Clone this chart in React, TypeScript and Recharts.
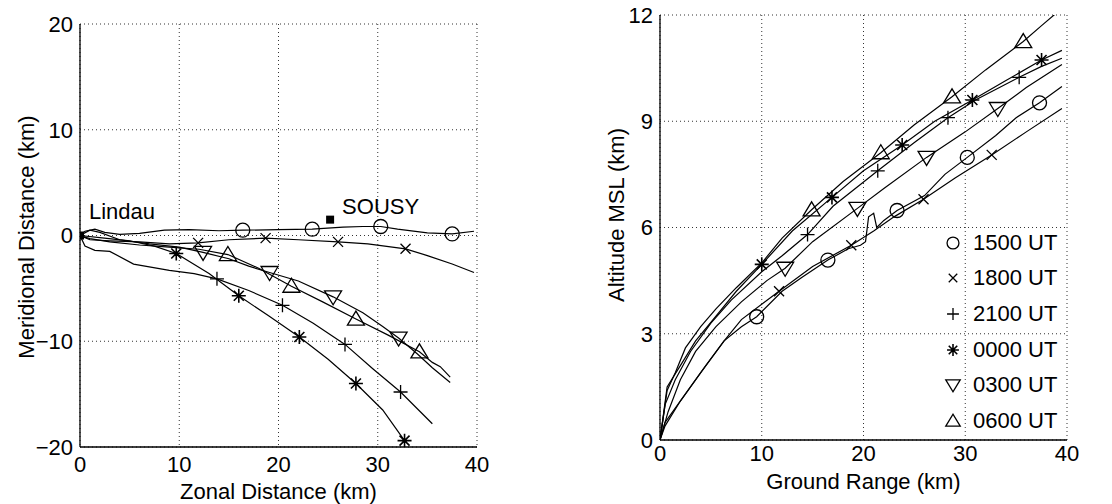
import React from "react"
import { ScatterChart, Scatter, XAxis, YAxis, CartesianGrid, Label, Legend } from "recharts"

type Pt = [number, number]

// ---- left panel: plan view of the balloon tracks (zonal km, meridional km)
const planTrack1500: Pt[] = [[0, 0], [0.5, 0.4], [1.5, 0.6], [2.5, 0.3], [4, 0.1], [6, 0.2], [8.5, 0.5], [11, 0.55], [14, 0.45], [16.4, 0.5], [20, 0.55], [23.4, 0.6], [26.5, 0.8], [28.5, 0.85], [30.3, 0.85], [32, 0.6], [35, 0.25], [37.5, 0.15], [39.7, 0.4]]
const planMarks1500: Pt[] = [[16.4, 0.5], [23.4, 0.6], [30.3, 0.85], [37.5, 0.15]]
const planTrack1800: Pt[] = [[0, 0], [1, -0.4], [3, -0.5], [6, -0.6], [9, -0.8], [11.9, -0.7], [15, -0.4], [18.7, -0.25], [22, -0.4], [26, -0.6], [29, -0.8], [32.8, -1.26], [35, -1.9], [37.5, -2.7], [39.7, -3.5]]
const planMarks1800: Pt[] = [[11.9, -0.7], [18.7, -0.25], [26, -0.6], [32.8, -1.26]]
const planTrack2100: Pt[] = [[0, 0], [0.5, -1.0], [1.5, -1.4], [3, -1.5], [5.4, -2.7], [9, -3.3], [11.5, -3.6], [13.8, -4.1], [17, -5.2], [20.4, -6.6], [23.5, -8.3], [26.7, -10.3], [29.5, -12.6], [32.3, -14.8], [35.5, -17.8]]
const planMarks2100: Pt[] = [[13.8, -4.1], [20.4, -6.6], [26.7, -10.3], [32.3, -14.8]]
const planTrack0000: Pt[] = [[0, 0], [2, -0.2], [5, -0.5], [7.5, -1.0], [9.7, -1.7], [13, -3.6], [16, -5.7], [19, -7.6], [22.1, -9.6], [25, -11.7], [27.8, -14.0], [30.5, -16.5], [32.7, -19.4]]
const planMarks0000: Pt[] = [[9.7, -1.7], [16, -5.7], [22.1, -9.6], [27.8, -14.0], [32.7, -19.4]]
const planTrack0300: Pt[] = [[0, 0], [1, 0.5], [2, 0.3], [4, -0.4], [7, -0.8], [10, -1.1], [12.4, -1.6], [15, -2.2], [17, -2.9], [19.1, -3.5], [22, -4.3], [25.5, -5.8], [28.5, -7.3], [30.5, -8.6], [32.1, -9.7], [34, -11.2], [35.5, -12.5], [37.3, -13.9]]
const planMarks0300: Pt[] = [[12.4, -1.6], [19.1, -3.5], [25.5, -5.8], [32.1, -9.7]]
const planTrack0600: Pt[] = [[0, 0], [1, -0.3], [3, -0.6], [6, -0.9], [9, -1.1], [12, -1.3], [14.9, -1.8], [18, -3.1], [21.3, -4.8], [24.5, -6.3], [27.8, -7.9], [31, -9.4], [34.2, -11.0], [35.5, -12.0], [36.3, -12.4], [37.3, -13.4]]
const planMarks0600: Pt[] = [[14.9, -1.8], [21.3, -4.8], [27.8, -7.9], [34.2, -11.0]]
const sites = [
  { x: 0, y: 0, name: "Lindau" },
  { x: 25.2, y: 1.5, name: "SOUSY" },
]

// ---- right panel: altitude against ground range
const altTrack1500: Pt[] = [[0, 0], [0.5, 0.5], [1.5, 0.9], [3, 1.5], [4.5, 2.1], [6.3, 2.8], [8, 3.2], [9.5, 3.48], [12, 4.2], [14, 4.6], [16.5, 5.08], [18.5, 5.4], [19.7, 5.5], [20.2, 5.6], [20.5, 6.3], [21, 6.4], [21.3, 6.0], [22, 6.2], [23.3, 6.48], [26, 6.9], [28, 7.5], [30.2, 7.98], [33, 8.6], [35, 9.1], [37.3, 9.52], [39.5, 9.98]]
const altMarks1500: Pt[] = [[9.5, 3.48], [16.5, 5.08], [23.3, 6.48], [30.2, 7.98], [37.3, 9.52]]
const altTrack1800: Pt[] = [[0, 0], [0.5, 0.4], [2, 1.1], [4, 1.9], [6.3, 2.8], [8, 3.4], [11.7, 4.2], [15, 4.9], [18.8, 5.5], [21, 5.9], [23, 6.3], [25.9, 6.8], [29, 7.4], [32.6, 8.05], [36, 8.7], [39.5, 9.36]]
const altMarks1800: Pt[] = [[11.7, 4.2], [18.8, 5.5], [25.9, 6.8], [32.6, 8.05]]
const altTrack2100: Pt[] = [[0, 0], [0.5, 1.0], [1.5, 1.7], [3, 2.5], [5, 3.3], [7, 3.95], [10, 4.75], [12, 5.2], [14.5, 5.8], [17, 6.6], [21.4, 7.6], [25, 8.4], [28.3, 9.1], [31, 9.6], [35.3, 10.24], [37.5, 10.55], [39.5, 10.78]]
const altMarks2100: Pt[] = [[14.5, 5.8], [21.4, 7.6], [28.3, 9.1], [35.3, 10.24]]
const altTrack0000: Pt[] = [[0, 0], [0.7, 1.5], [2, 2.1], [3.5, 2.8], [5.5, 3.5], [7.5, 4.2], [10, 4.96], [13, 5.9], [16.9, 6.85], [20, 7.6], [23.8, 8.33], [27, 9.0], [30.7, 9.6], [34, 10.15], [37.5, 10.73], [39.5, 11.0]]
const altMarks0000: Pt[] = [[10, 4.96], [16.9, 6.85], [23.8, 8.33], [30.7, 9.6], [37.5, 10.73]]
const altTrack0300: Pt[] = [[0, 0], [0.8, 0.8], [2, 1.7], [3.5, 2.5], [5.5, 3.2], [8, 3.9], [10.5, 4.5], [12.3, 4.85], [15, 5.6], [19.4, 6.54], [22, 7.1], [26.2, 7.98], [30, 8.7], [33.2, 9.36], [36, 9.95], [39.5, 10.6]]
const altMarks0300: Pt[] = [[12.3, 4.85], [19.4, 6.54], [26.2, 7.98], [33.2, 9.36]]
const altTrack0600: Pt[] = [[0, 0], [0.7, 1.4], [1.5, 1.9], [2.5, 2.6], [4, 3.2], [5.5, 3.7], [7.5, 4.3], [10, 5.0], [12, 5.7], [14.9, 6.5], [18, 7.3], [21.7, 8.11], [25, 8.9], [28.7, 9.69], [32, 10.45], [35.7, 11.25], [37.5, 11.7], [39.3, 12.14]]
const altMarks0600: Pt[] = [[14.9, 6.5], [21.7, 8.11], [28.7, 9.69], [35.7, 11.25]]

const launchNames = ["1500 UT", "1800 UT", "2100 UT", "0000 UT", "0300 UT", "0600 UT"]
const markerKinds = ["circle", "x", "plus", "star", "down", "up"]
const planX = [0, 10, 20, 30, 40]
const planY = [-20, -10, 0, 10, 20]
const altX = [0, 10, 20, 30, 40]
const altY = [0, 3, 6, 9, 12]

const planTracks = [planTrack1500, planTrack1800, planTrack2100, planTrack0000, planTrack0300, planTrack0600]
const planMarks = [planMarks1500, planMarks1800, planMarks2100, planMarks0000, planMarks0300, planMarks0600]
const altTracks = [altTrack1500, altTrack1800, altTrack2100, altTrack0000, altTrack0300, altTrack0600]
const altMarks = [altMarks1500, altMarks1800, altMarks2100, altMarks0000, altMarks0300, altMarks0600]

const FONT = "'Liberation Sans', Arial, Helvetica, sans-serif"
const toXY = (pts: Pt[]) => pts.map(([x, y]) => ({ x, y }))
const fmt = (v: number) => (v < 0 ? `\u2212${-v}` : `${v}`)

function Marker({ kind, cx, cy, s = 1 }: { kind: string; cx: number; cy: number; s?: number }) {
  const st = { fill: "none", stroke: "#000", strokeWidth: 1.3 }
  const d = 5 * s
  const p = 7 * s
  if (kind === "circle") return <circle cx={cx} cy={cy} r={7 * s} {...st} />
  if (kind === "x") return <path d={`M${cx - d},${cy - d}L${cx + d},${cy + d}M${cx - d},${cy + d}L${cx + d},${cy - d}`} {...st} />
  if (kind === "plus") return <path d={`M${cx - p},${cy}L${cx + p},${cy}M${cx},${cy - p}L${cx},${cy + p}`} {...st} />
  if (kind === "star")
    return (
      <path
        d={`M${cx - p},${cy}L${cx + p},${cy}M${cx},${cy - p}L${cx},${cy + p}M${cx - d},${cy - d}L${cx + d},${cy + d}M${cx - d},${cy + d}L${cx + d},${cy - d}`}
        {...st}
        strokeWidth={1.6}
      />
    )
  const w = 8.5 * s
  if (kind === "down") return <path d={`M${cx - w},${cy - 6 * s}L${cx + w},${cy - 6 * s}L${cx},${cy + 8 * s}Z`} {...st} />
  return <path d={`M${cx - w},${cy + 6 * s}L${cx + w},${cy + 6 * s}L${cx},${cy - 8 * s}Z`} {...st} />
}

const SiteShape = (props: any) => {
  const { cx, cy, payload } = props
  const lindau = payload.name === "Lindau"
  return (
    <g>
      <rect x={cx - 4} y={cy - 4} width={8} height={8} fill="#000" />
      <text x={cx + (lindau ? 9 : 12)} y={cy + (lindau ? -17 : -6)} fontSize={22} fontFamily={FONT} fill="#000">
        {payload.name}
      </text>
    </g>
  )
}

const tickStyle = { fill: "#000", fontSize: 22, fontFamily: FONT }
const axisLine = { stroke: "#000", strokeWidth: 1.3 }
const line = { stroke: "#000", strokeWidth: 1.2 }

function TrackSeries(tracks: Pt[][], marks: Pt[][], scale: number) {
  return launchNames.flatMap((name, i) => [
    <Scatter
      key={name + "-line"}
      name={name}
      data={toXY(tracks[i])}
      line={line}
      shape={() => <g />}
      legendType="none"
      isAnimationActive={false}
    />,
    <Scatter
      key={name + "-mark"}
      name={name + " marks"}
      data={toXY(marks[i])}
      shape={(p: any) => <Marker kind={markerKinds[i]} cx={p.cx} cy={p.cy} s={scale} />}
      legendType="none"
      isAnimationActive={false}
    />,
  ])
}

const LaunchLegend = () => (
  <div style={{ fontFamily: FONT, fontSize: 22, color: "#000" }}>
    {launchNames.map((n, i) => (
      <div key={n} style={{ display: "flex", alignItems: "center", height: 35.6 }}>
        <svg width={20} height={20} style={{ marginRight: 10 }}>
          <Marker kind={markerKinds[i]} cx={10} cy={10} s={0.85} />
        </svg>
        <span>{n}</span>
      </div>
    ))}
  </div>
)

export default function App() {
  return (
    <div style={{ position: "absolute", left: 0, top: 0, width: 1112, height: 504, background: "#fff", fontFamily: FONT }}>
      <div style={{ position: "absolute", left: 0, top: 0 }}>
        <ScatterChart width={500} height={504} margin={{ top: 24, right: 23, bottom: 0, left: 0 }}>
          <CartesianGrid stroke="#333" strokeDasharray="1 3" />
          <XAxis
            type="number"
            dataKey="x"
            domain={[0, 40]}
            ticks={planX}
            allowDataOverflow
            height={57}
            tickSize={0}
            tickMargin={9}
            tickLine={false}
            axisLine={axisLine}
            tick={tickStyle}
          >
            <Label value="Zonal Distance (km)" position="insideBottom" offset={5} fill="#000" fontSize={22} fontFamily={FONT} />
          </XAxis>
          <YAxis
            type="number"
            dataKey="y"
            domain={[-20, 20]}
            ticks={planY}
            allowDataOverflow
            width={80}
            tickSize={0}
            tickMargin={7}
            tickLine={false}
            axisLine={axisLine}
            tick={tickStyle}
            tickFormatter={fmt}
          >
            <Label
              content={() => (
                <text x={34} y={237} transform="rotate(-90, 34, 237)" textAnchor="middle" fontSize={22} fontFamily={FONT} fill="#000">
                  Meridional Distance (km)
                </text>
              )}
            />
          </YAxis>
          {TrackSeries(planTracks, planMarks, 1)}
          <Scatter name="sites" data={sites} shape={SiteShape} legendType="none" isAnimationActive={false} />
        </ScatterChart>
      </div>
      <div style={{ position: "absolute", left: 560, top: 0 }}>
        <ScatterChart width={552} height={504} margin={{ top: 15, right: 45, bottom: 0, left: 0 }}>
          <CartesianGrid stroke="#333" strokeDasharray="1 3" />
          <XAxis
            type="number"
            dataKey="x"
            domain={[0, 40]}
            ticks={altX}
            allowDataOverflow
            height={64}
            tickSize={0}
            tickMargin={5}
            tickLine={false}
            axisLine={axisLine}
            tick={tickStyle}
          >
            <Label value="Ground Range (km)" position="insideBottom" offset={15} fill="#000" fontSize={22} fontFamily={FONT} />
          </XAxis>
          <YAxis
            type="number"
            dataKey="y"
            domain={[0, 12]}
            ticks={altY}
            allowDataOverflow
            width={100}
            tickSize={0}
            tickMargin={7}
            tickLine={false}
            axisLine={axisLine}
            tick={tickStyle}
          >
            <Label
              content={() => (
                <text x={64} y={215} transform="rotate(-90, 64, 215)" textAnchor="middle" fontSize={22} fontFamily={FONT} fill="#000">
                  Altitude MSL (km)
                </text>
              )}
            />
          </YAxis>
          {TrackSeries(altTracks, altMarks, 1)}
          <Legend
            layout="horizontal"
            verticalAlign="middle"
            align="center"
            content={LaunchLegend}
            wrapperStyle={{ left: 383, top: 225, width: 130, height: 214 }}
          />
        </ScatterChart>
      </div>
    </div>
  )
}
